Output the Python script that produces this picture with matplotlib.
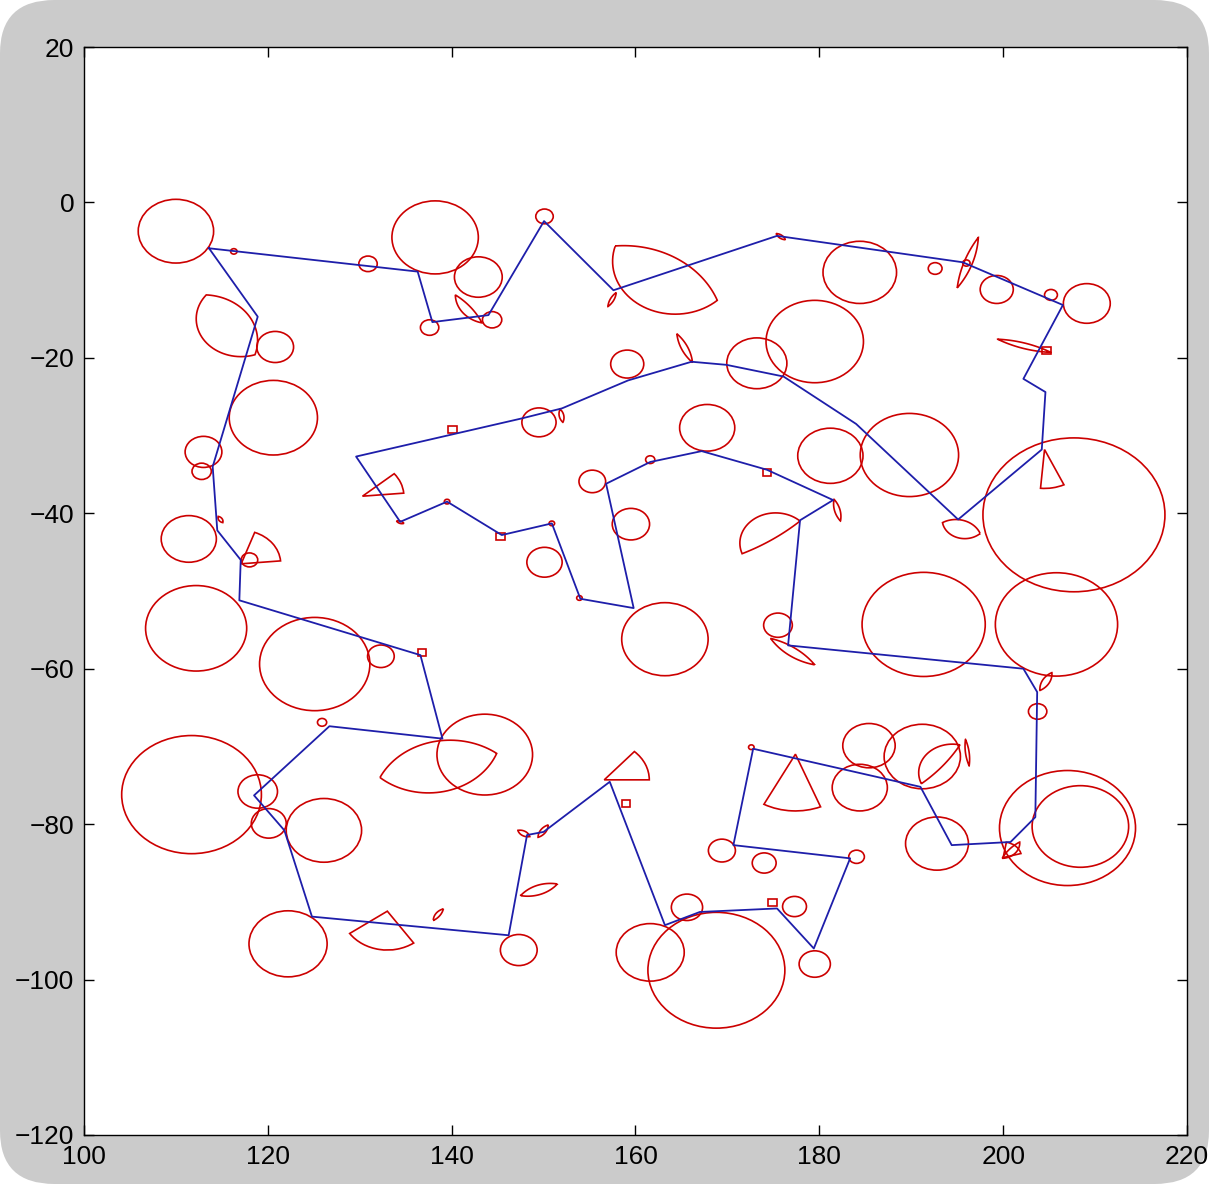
import numpy as np
import matplotlib.pyplot as plt
from matplotlib.patches import Circle, Wedge, Polygon, Rectangle, FancyBboxPatch

plt.rcParams['font.family'] = ['Liberation Sans', 'DejaVu Sans']

# obstacle circles: centre x, centre y, radius
circle_x = [110.0, 138.2, 142.9, 150.1, 130.9, 137.6, 144.4, 184.4, 199.3, 209.1,
            192.6, 205.2, 120.8, 120.6, 113.0, 112.8, 111.4, 118.0, 112.2, 125.1,
            132.3, 111.7, 118.9, 120.1, 126.1, 122.2, 147.3, 161.6, 168.8, 165.6,
            177.3, 179.5, 169.4, 174.0, 184.05, 192.8, 207.0, 208.4, 184.4, 185.4,
            191.2, 175.5, 163.2, 150.1, 159.5, 191.35, 205.8, 207.7, 203.75, 189.8,
            181.2, 179.5, 173.2, 159.1, 149.5, 167.8, 155.3, 161.6, 143.6, 125.9,
            116.3, 196.0, 139.5, 150.9, 153.9, 172.6]
circle_y = [-3.7, -4.5, -9.6, -1.8, -7.9, -16.1, -15.1, -9.0, -11.2, -13.0,
            -8.5, -11.9, -18.6, -27.7, -32.1, -34.6, -43.3, -46.0, -54.8, -59.4,
            -58.4, -76.2, -75.8, -79.9, -80.8, -95.4, -96.2, -96.5, -98.8, -90.7,
            -90.6, -98.0, -83.4, -85.0, -84.2, -82.5, -80.5, -80.3, -75.3, -69.9,
            -71.3, -54.4, -56.2, -46.3, -41.4, -54.3, -54.3, -40.2, -65.5, -32.5,
            -32.6, -17.9, -20.7, -20.8, -28.3, -29.0, -35.9, -33.1, -71.05, -66.9,
            -6.3, -7.8, -38.5, -41.3, -50.9, -70.1]
circle_r = [4.1, 4.7, 2.6, 0.95, 1.0, 1.0, 1.05, 4.0, 1.8, 2.55,
            0.75, 0.7, 2.0, 4.8, 2.0, 1.05, 3.0, 0.9, 5.5, 6.0,
            1.45, 7.6, 2.15, 1.9, 4.1, 4.25, 2.0, 3.7, 7.45, 1.7,
            1.3, 1.7, 1.47, 1.3, 0.85, 3.42, 7.4, 5.25, 3.0, 2.85,
            4.15, 1.56, 4.7, 1.92, 2.03, 6.7, 6.65, 9.9, 1.0, 5.35,
            3.55, 5.3, 3.27, 1.8, 1.86, 3.0, 1.45, 0.5, 5.2, 0.5,
            0.35, 0.4, 0.3, 0.3, 0.3, 0.3]

# lens shaped obstacles: chord end points and bulge on each side
lens_x1 = [140.4, 157.9, 157.8, 175.3, 197.3, 199.4, 164.5, 151.8, 181.6, 171.6,
           174.7, 193.4, 204.0, 132.2, 191.1, 195.9, 147.5, 138.0, 147.2, 149.4,
           114.6, 134.0, 199.9, 113.3]
lens_y1 = [-11.9, -11.6, -5.6, -4.0, -4.5, -17.6, -16.9, -26.6, -38.2, -45.2,
           -56.1, -41.2, -62.8, -74.0, -74.8, -69.1, -89.2, -92.4, -80.8, -81.7,
           -40.4, -41.0, -84.4, -11.9]
lens_x2 = [143.3, 157.0, 168.9, 176.3, 195.0, 205.2, 166.2, 152.1, 182.3, 177.9,
           179.5, 197.5, 205.3, 144.9, 195.3, 196.3, 151.5, 139.1, 148.5, 150.5,
           115.1, 134.8, 201.8, 118.6]
lens_y2 = [-15.5, -13.4, -12.6, -4.8, -11.0, -19.3, -20.6, -28.3, -41.0, -41.0,
           -59.5, -42.6, -60.5, -70.9, -69.8, -72.5, -87.7, -90.9, -81.6, -80.1,
           -41.2, -41.3, -82.3, -19.6]
lens_s1 = [0.3, 0.2, 2.2, 0.2, 0.5, 0.35, 0.35, 0.25, 0.3, 3.0,
           0.5, 1.0, 0.4, 3.1, 2.0, 0.2, 0.6, 0.3, 0.3, 0.3,
           0.2, 0.15, 0.2, 2.3]
lens_s2 = [0.8, 0.2, 5.0, 0.2, 0.4, 0.35, 0.35, 0.25, 0.3, 0.3,
           0.6, 1.3, 0.4, 3.4, 0.3, 0.2, 0.6, 0.2, 0.3, 0.3,
           0.2, 0.15, 0.6, 3.5]

# sector shaped obstacles
wedge_x = [204.5, 130.3, 117.1, 156.6, 177.4, 133.0, 200.0]
wedge_y = [-31.8, -37.8, -46.5, -74.3, -71.0, -91.2, -84.3]
wedge_r = [5.0, 4.5, 4.3, 4.9, 7.3, 5.0, 2.0]
wedge_t1 = [-95, 5, 5, 0, -118, -145, 15]
wedge_t2 = [-65, 40, 70, 48, -68, -55, 80]

# small square markers
square_x = [136.8, 140.1, 145.3, 174.3, 174.9, 204.7, 159.0]
square_y = [-57.9, -29.2, -43.0, -34.7, -90.1, -19.0, -77.4]

# planned tour (closed)
path_x = [113.6, 136.3, 137.9, 144.0, 150.05, 157.6, 175.4, 195.6, 206.5, 202.2,
          204.6, 204.2, 195.1, 184.0, 176.1, 169.9, 166.1, 159.2, 152.0, 147.6,
          129.6, 134.4, 139.5, 145.45, 150.9, 154.0, 159.8, 156.8, 161.6, 167.2,
          174.3, 181.5, 177.9, 176.6, 202.2, 203.7, 203.5, 200.8, 194.4, 191.0,
          172.8, 170.65, 183.35, 179.4, 175.4, 167.0, 163.2, 157.2, 150.0, 148.2,
          146.2, 124.8, 121.8, 118.5, 126.7, 139.0, 136.6, 116.9, 117.05, 114.5,
          114.0, 118.9, 113.6]
path_y = [-5.9, -8.9, -15.4, -14.5, -2.4, -11.3, -4.3, -7.7, -13.2, -22.7,
          -24.4, -31.8, -40.8, -28.5, -22.4, -20.9, -20.5, -22.9, -26.5, -27.8,
          -32.7, -41.1, -38.5, -42.8, -41.3, -51.0, -52.2, -36.2, -33.4, -32.0,
          -34.4, -38.3, -40.9, -57.0, -60.0, -63.0, -79.1, -82.3, -82.7, -75.2,
          -70.3, -82.7, -84.4, -96.0, -90.85, -91.3, -93.0, -74.55, -81.0, -81.4,
          -94.3, -91.9, -80.8, -76.3, -67.4, -69.0, -58.25, -51.2, -46.0, -42.2,
          -34.0, -14.7, -5.9]

red = '#cc0000'
blue = '#1e1eaa'


def arc(p, q, s, n=40):
    # circular arc from p to q bulging by s to the left of p->q
    p = np.asarray(p, float)
    q = np.asarray(q, float)
    d = q - p
    c = np.hypot(d[0], d[1])
    nrm = np.array([-d[1], d[0]]) / c
    m = (p + q) / 2
    h = c / 2
    R = (h * h + s * s) / (2 * abs(s))
    ctr = m + nrm * s - nrm * np.sign(s) * R
    a0 = np.arctan2(p[1] - ctr[1], p[0] - ctr[0])
    a1 = np.arctan2(q[1] - ctr[1], q[0] - ctr[0])
    ab = np.arctan2(nrm[1] * np.sign(s), nrm[0] * np.sign(s))
    delta = (a1 - a0) % (2 * np.pi)
    if (ab - a0) % (2 * np.pi) > delta:
        delta -= 2 * np.pi
    t = a0 + np.linspace(0, delta, n)
    return np.column_stack([ctr[0] + R * np.cos(t), ctr[1] + R * np.sin(t)])


fig = plt.figure(figsize=(12.09, 11.84), dpi=100, facecolor='white')
bg = FancyBboxPatch((0, 0), 1, 1, boxstyle='round,pad=0,rounding_size=0.045',
                    transform=fig.transFigure, facecolor='#cbcbcb',
                    edgecolor='none', zorder=-10)
fig.patches.append(bg)

ax = fig.add_axes([84 / 1209, 1 - 1135 / 1184, 1103 / 1209, 1088 / 1184])
ax.set_facecolor('white')

for x, y, r in zip(circle_x, circle_y, circle_r):
    ax.add_patch(Circle((x, y), r, fill=False, edgecolor=red, lw=1.2))

for x1, y1, x2, y2, s1, s2 in zip(lens_x1, lens_y1, lens_x2, lens_y2, lens_s1, lens_s2):
    pts = np.vstack([arc((x1, y1), (x2, y2), s1), arc((x2, y2), (x1, y1), s2)])
    ax.add_patch(Polygon(pts, closed=True, fill=False, edgecolor=red, lw=1.2))

for x, y, r, t1, t2 in zip(wedge_x, wedge_y, wedge_r, wedge_t1, wedge_t2):
    ax.add_patch(Wedge((x, y), r, t1, t2, fill=False, edgecolor=red, lw=1.2))

for x, y in zip(square_x, square_y):
    ax.add_patch(Rectangle((x - 0.45, y - 0.45), 0.9, 0.9, fill=False,
                           edgecolor=red, lw=1.2))

ax.plot(path_x, path_y, color=blue, lw=1.3, zorder=5)

ax.set_xlim(100, 220)
ax.set_ylim(-120, 20)
ax.set_xticks(np.arange(100, 221, 20))
ax.set_yticks(np.arange(-120, 21, 20))
ax.tick_params(direction='in', length=7, width=1, top=True, right=True,
               labelsize=19, pad=7)
for sp in ax.spines.values():
    sp.set_linewidth(1)

fig.savefig('out.png', dpi=100)
